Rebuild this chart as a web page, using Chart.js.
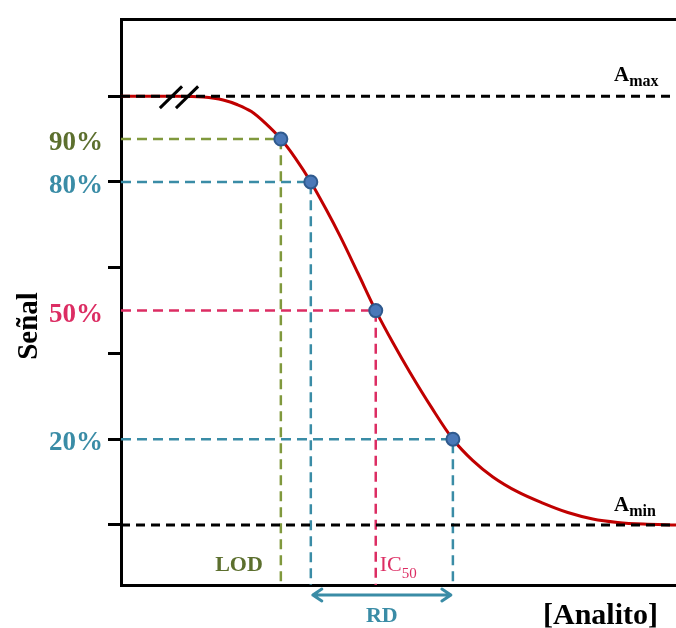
<!DOCTYPE html>
<html>
<head>
<meta charset="utf-8">
<script src="https://cdn.jsdelivr.net/npm/chart.js@4.4.0/dist/chart.umd.min.js"></script>
<style>
  html, body { margin: 0; padding: 0; background: #fff; overflow: hidden; }
  #wrap { width: 676px; height: 628px; position: relative; }
  #curve { display: block; }
</style>
</head>
<body>
<div id="wrap"><canvas id="curve"></canvas></div>
<script>
// sigmoid dose-response curve (x: arbitrary conc. units 0-100, y: % signal)
const concentration = [0, 10.0, 14.8, 18.4, 21.0, 23.5, 26.0, 28.8, 31.5, 34.2, 37.0, 39.5, 42.7, 45.9, 49.0, 52.1, 56.0, 59.8, 63.4, 67.0, 71.5, 76.0, 80.5, 85.0, 89.5, 94.1, 100];
const signal = [100, 100, 99.8, 99.1, 98.0, 96.4, 93.7, 90, 85.4, 80, 73.5, 67.3, 58.7, 50, 42.5, 35.5, 27.3, 20, 15.0, 11.2, 7.7, 5.1, 2.9, 1.4, 0.6, 0.2, 0];

// marked levels and where they hit the curve
const levels = [90, 80, 50, 20];
const levelX = [28.8, 34.2, 45.9, 59.8];
const levelLabels = ["90%", "80%", "50%", "20%"];

const aMax = 100;
const aMin = 0;
const yTicks = [0, 20, 40, 50, 60, 80, 90, 100];
const yMin = -14;
const yMax = 118;

// axis break "//"
const breakX = [[7.0, 11.0], [9.9, 13.9]];
const breakY = [97.2, 102.3];

const FONT = "'Liberation Serif', 'DejaVu Serif', serif";
const OLIVE = "#80993d";
const OLIVE_TXT = "#5c6f2e";
const TEAL = "#3a8ca6";
const CRIMSON = "#dc2d63";
const RED = "#c00000";

const levelColor = { 90: OLIVE, 80: TEAL, 50: CRIMSON, 20: TEAL };
const levelTextColor = { 90: OLIVE_TXT, 80: TEAL, 50: CRIMSON, 20: TEAL };

const curvePoints = concentration.map((c, i) => ({ x: c, y: signal[i] }));

const datasets = [];

// marker dots
datasets.push({
  data: levels.map((l, i) => ({ x: levelX[i], y: l })),
  showLine: false,
  pointRadius: 6.5,
  pointBackgroundColor: "#4a78b8",
  pointBorderColor: "#2f5a8e",
  pointBorderWidth: 2,
  order: 0,
});

// Amax / Amin dashed lines
[aMax, aMin].forEach((v) => {
  datasets.push({
    data: [{ x: 0, y: v }, { x: 100, y: v }],
    showLine: true,
    borderColor: "#000",
    borderWidth: 3,
    borderDash: [9, 6],
    pointRadius: 0,
    order: 1,
  });
});

// break marks
breakX.forEach((bx) => {
  datasets.push({
    data: [{ x: bx[0], y: breakY[0] }, { x: bx[1], y: breakY[1] }],
    showLine: true,
    borderColor: "#000",
    borderWidth: 3,
    pointRadius: 0,
    order: 1,
  });
});

// the curve
datasets.push({
  data: curvePoints,
  showLine: true,
  borderColor: RED,
  borderWidth: 3,
  cubicInterpolationMode: "monotone",
  pointRadius: 0,
  order: 2,
});

// guide lines from axis to point and down
levels.forEach((l, i) => {
  datasets.push({
    data: [{ x: 0, y: l }, { x: levelX[i], y: l }, { x: levelX[i], y: yMin }],
    showLine: true,
    borderColor: levelColor[l],
    borderWidth: 2.5,
    borderDash: [10, 6],
    pointRadius: 0,
    order: 3,
  });
});

const annotations = {
  id: "annotations",
  afterDraw(chart) {
    const c = chart.ctx;
    const xs = chart.scales.x;
    const ys = chart.scales.y;
    c.save();
    c.textBaseline = "alphabetic";
    c.textAlign = "left";

    function sub(main, small, x, y, color, weight, size, subSize, drop) {
      c.fillStyle = color;
      c.font = weight + " " + size + "px " + FONT;
      c.fillText(main, x, y);
      const w = c.measureText(main).width;
      c.font = weight + " " + subSize + "px " + FONT;
      c.fillText(small, x + w, y + drop);
    }

    // Amax / Amin
    sub("A", "max", 614, ys.getPixelForValue(aMax) - 15, "#000", "bold", 21, 16, 5);
    sub("A", "min", 614, ys.getPixelForValue(aMin) - 14, "#000", "bold", 21, 16, 5);

    // LOD
    c.font = "bold 22px " + FONT;
    c.fillStyle = OLIVE_TXT;
    c.textAlign = "right";
    c.fillText("LOD", xs.getPixelForValue(levelX[0]) - 18, 571);

    // IC50
    c.textAlign = "left";
    sub("IC", "50", xs.getPixelForValue(levelX[2]) + 4, 571, CRIMSON, "normal", 22, 15, 7);

    // RD arrow between 80% and 20%
    const x1 = xs.getPixelForValue(levelX[1]) + 2;
    const x2 = xs.getPixelForValue(levelX[3]) - 2;
    const ay = 595;
    c.strokeStyle = TEAL;
    c.lineWidth = 3;
    c.lineCap = "round";
    c.lineJoin = "round";
    c.beginPath();
    c.moveTo(x1, ay);
    c.lineTo(x2, ay);
    c.moveTo(x1 + 9, ay - 6);
    c.lineTo(x1, ay);
    c.lineTo(x1 + 9, ay + 6);
    c.moveTo(x2 - 9, ay - 6);
    c.lineTo(x2, ay);
    c.lineTo(x2 - 9, ay + 6);
    c.stroke();

    c.font = "bold 22px " + FONT;
    c.fillStyle = TEAL;
    c.textAlign = "center";
    c.fillText("RD", (x1 + x2) / 2, 622);

    // axis titles
    c.fillStyle = "#000";
    c.font = "bold 30px " + FONT;
    c.textAlign = "right";
    c.fillText("[Analito]", 658, 624);

    c.translate(37, 326);
    c.rotate(-Math.PI / 2);
    c.font = "bold 29px " + FONT;
    c.textAlign = "center";
    c.fillText("Señal", 0, 0);
    c.restore();
  },
};

new Chart(document.getElementById("curve"), {
  type: "scatter",
  data: { datasets },
  options: {
    responsive: true,
    maintainAspectRatio: false,
    animation: false,
    layout: { padding: 0, autoPadding: false },
    plugins: { legend: { display: false }, tooltip: { enabled: false } },
    scales: {
      x: {
        type: "linear",
        min: 0,
        max: 100,
        ticks: { display: false },
        grid: { display: false },
        border: { display: true, color: "#000", width: 3 },
        afterFit: (s) => { s.height = 43; s.paddingLeft = 0; s.paddingRight = 0; },
      },
      xTop: {
        type: "linear",
        position: "top",
        min: 0,
        max: 100,
        ticks: { display: false },
        grid: { display: false },
        border: { display: true, color: "#000", width: 3 },
        afterFit: (s) => { s.height = 19; s.paddingLeft = 0; s.paddingRight = 0; },
      },
      y: {
        min: yMin,
        max: yMax,
        afterBuildTicks: (s) => { s.ticks = yTicks.map((v) => ({ value: v })); },
        afterFit: (s) => { s.width = 121; s.paddingTop = 0; s.paddingBottom = 0; },
        border: { display: true, color: "#000", width: 3 },
        grid: {
          drawOnChartArea: false,
          drawTicks: true,
          tickLength: 13,
          tickWidth: 3,
          tickColor: (ctx) => (ctx.tick && (ctx.tick.value === 50 || ctx.tick.value === 90)) ? "rgba(0,0,0,0)" : "#000",
        },
        ticks: {
          padding: 5,
          labelOffset: 4,
          font: { family: FONT, size: 27, weight: "bold" },
          color: (ctx) => levelTextColor[ctx.tick.value] || "#000",
          callback: (v) => {
            const i = levels.indexOf(v);
            return i >= 0 ? levelLabels[i] : "";
          },
        },
      },
    },
  },
  plugins: [annotations],
});
</script>
</body>
</html>
